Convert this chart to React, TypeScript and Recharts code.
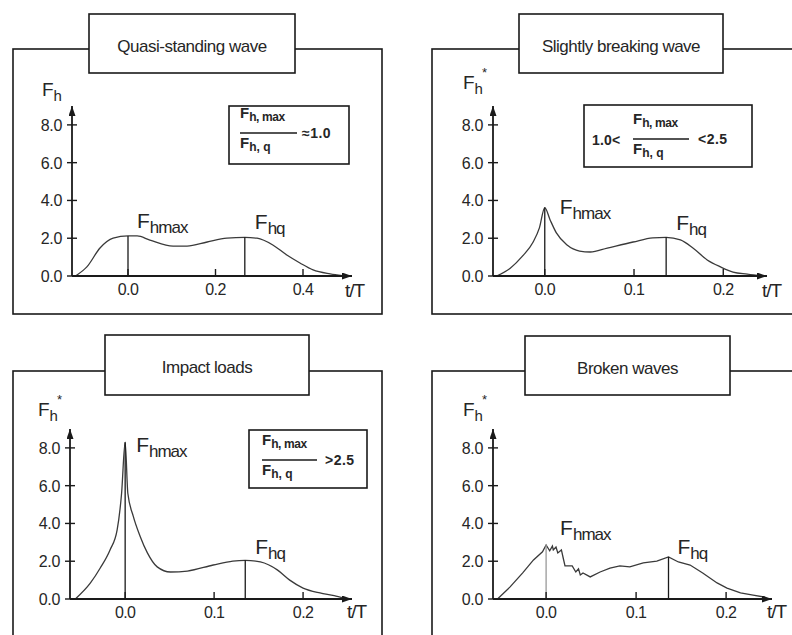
import React from "react";
import { LineChart, Line, XAxis, YAxis, ReferenceLine } from "recharts";

const FONT = "'Liberation Sans', Arial, Helvetica, sans-serif";
const INK = "#1a1a1a";
const TEXT = "#262626";

// quasi-standing wave (t/T, Fh)
const quasiT = [-0.12, -0.094, -0.064, -0.034, 0, 0.021, 0.05, 0.103, 0.135, 0.181, 0.226, 0.267, 0.295, 0.331, 0.363, 0.393, 0.423, 0.462, 0.49];
const quasiF = [0, 0.48, 1.48, 2.0, 2.12, 2.12, 1.9, 1.58, 1.58, 1.8, 2.0, 2.05, 2.0, 1.64, 1.11, 0.69, 0.32, 0.11, 0.02];
const quasiMarks = [0, 0.267]; // Fhmax, Fhq

// slightly breaking wave
const slightT = [-0.054, -0.039, -0.025, -0.013, -0.006, 0, 0.006, 0.013, 0.025, 0.039, 0.051, 0.07, 0.099, 0.121, 0.136, 0.152, 0.166, 0.182, 0.197, 0.211, 0.227, 0.244];
const slightF = [0, 0.4, 1.05, 1.8, 2.55, 3.62, 2.97, 2.28, 1.64, 1.32, 1.27, 1.48, 1.8, 2.02, 2.05, 1.91, 1.48, 0.85, 0.48, 0.21, 0.1, 0];
const slightMarks = [0, 0.136];

// impact loads
const impactT = [-0.056, -0.039, -0.028, -0.017, -0.009, -0.004, 0, 0.003, 0.009, 0.017, 0.025, 0.036, 0.051, 0.07, 0.099, 0.121, 0.135, 0.152, 0.171, 0.185, 0.2, 0.219, 0.235, 0.246];
const impactF = [0, 0.85, 1.64, 2.6, 3.66, 5.6, 8.3, 5.6, 4.4, 3.3, 2.44, 1.7, 1.43, 1.48, 1.8, 2.01, 2.05, 1.96, 1.54, 1.0, 0.58, 0.32, 0.18, 0.05];
const impactMarks = [0, 0.135];

// broken waves
const brokenT = [-0.054, -0.04, -0.026, -0.014, -0.004, 0, 0.004, 0.007, 0.008, 0.011, 0.013, 0.017, 0.019, 0.021, 0.029, 0.033, 0.036, 0.038, 0.041, 0.049, 0.06, 0.071, 0.082, 0.093, 0.108, 0.123, 0.136, 0.147, 0.16, 0.174, 0.19, 0.201, 0.216, 0.23, 0.243];
const brokenF = [0, 0.64, 1.38, 2.07, 2.5, 2.86, 2.55, 2.8, 2.6, 2.75, 2.44, 2.6, 2.17, 1.75, 1.75, 1.43, 1.6, 1.27, 1.38, 1.17, 1.43, 1.64, 1.75, 1.7, 1.91, 2.01, 2.23, 1.96, 1.8, 1.38, 0.85, 0.58, 0.32, 0.21, 0.1];
const brokenMarks = [0, 0.136];

const wideTicks = [0, 0.2, 0.4];
const narrowTicks = [0, 0.1, 0.2];
const forceTicks = [0, 2, 4, 6, 8];

const toRows = (t: number[], f: number[]) => t.map((v, i) => ({ t: v, f: f[i] }));
const markValue = (t: number[], f: number[], at: number) => f[t.indexOf(at)];

const YW = 60;
const MT = 12;
const MR = 28;
const XH = 34;

const YTick = (p: any) => (
  <g>
    <line x1={p.x - 5} x2={p.x + 5} y1={p.y} y2={p.y} stroke={INK} strokeWidth={1.4} />
    <text x={p.x - 10} y={p.y + 6} textAnchor="end" fontSize={16} letterSpacing={-0.3} fill={TEXT} fontFamily={FONT}>
      {Number(p.payload.value).toFixed(1)}
    </text>
  </g>
);

const XTick = (p: any) => (
  <g>
    <line x1={p.x} x2={p.x} y1={p.y} y2={p.y - 7} stroke={INK} strokeWidth={1.4} />
    <text x={p.x} y={p.y + 19} textAnchor="middle" fontSize={16} letterSpacing={-0.6} fill={TEXT} fontFamily={FONT}>
      {Number(p.payload.value).toFixed(1)}
    </text>
  </g>
);

const markLabel = (sub: string, dx: number, dy: number) => (p: any) => {
  const vb = p.viewBox || {};
  return (
    <text x={vb.x + dx} y={vb.y + dy} fill={TEXT} fontFamily={FONT} fontSize={21}>
      F<tspan fontSize={17} dy={5} letterSpacing={-1}>{sub}</tspan>
    </text>
  );
};

type Mark = { at: number; sub: string; dx: number; dy: number; color: string };

function ForceChart(props: {
  t: number[];
  f: number[];
  domain: [number, number];
  xTicks: number[];
  plot: { l: number; r: number; top: number; b: number };
  marks: Mark[];
  curve: "monotone" | "linear";
}) {
  const { t, f, domain, xTicks, plot, marks, curve } = props;
  const w = YW + (plot.r - plot.l) + MR;
  const h = MT + (plot.b - plot.top) + XH;
  return (
    <div style={{ position: "absolute", left: plot.l - YW, top: plot.top - MT }}>
      <LineChart width={w} height={h} data={toRows(t, f)} margin={{ top: MT, right: MR, bottom: 0, left: 0 }}>
        <XAxis
          type="number"
          dataKey="t"
          domain={domain}
          ticks={xTicks}
          allowDataOverflow
          interval={0}
          height={XH}
          tickSize={0}
          tickMargin={0}
          tickLine={false}
          tick={XTick}
          axisLine={{ stroke: INK, strokeWidth: 1.8, markerEnd: "url(#axisArrow)" }}
        />
        <YAxis
          type="number"
          domain={[0, 9]}
          ticks={forceTicks}
          allowDataOverflow
          interval={0}
          width={YW}
          tickSize={0}
          tickMargin={0}
          tickLine={false}
          tick={YTick}
          axisLine={{ stroke: INK, strokeWidth: 1.8, markerStart: "url(#axisArrow)" }}
        />
        <Line dataKey="f" type={curve} stroke="#3a3a3a" strokeWidth={1.3} dot={false} activeDot={false} isAnimationActive={false} />
        {marks.map((m) => (
          <ReferenceLine
            key={m.sub}
            segment={[
              { x: m.at, y: 0 },
              { x: m.at, y: markValue(t, f, m.at) },
            ]}
            stroke={m.color}
            strokeWidth={1.3}
            label={markLabel(m.sub, m.dx, m.dy)}
          />
        ))}
      </LineChart>
    </div>
  );
}

const txt = { fontFamily: FONT, fill: TEXT } as const;

function Ratio(props: { x: number; y: number; w: number; h: number; fx: number; lw: number; ly: number; pre?: string; preX?: number; post: string; postX: number }) {
  const { x, y, w, h, fx, lw, ly, pre, preX, post, postX } = props;
  return (
    <g>
      <rect x={x} y={y} width={w} height={h} fill="#fff" stroke={INK} strokeWidth={1.6} />
      <text x={fx} y={ly - 15} fontSize={15} fontWeight="bold" {...txt}>
        F<tspan fontSize={12} dy={3} letterSpacing={-0.4}>h, max</tspan>
      </text>
      <line x1={fx} x2={fx + lw} y1={ly} y2={ly} stroke={INK} strokeWidth={1.4} />
      <text x={fx} y={ly + 15} fontSize={15} fontWeight="bold" {...txt}>
        F<tspan fontSize={12} dy={3}>h, q</tspan>
      </text>
      {pre && (
        <text x={preX} y={ly + 6} fontSize={14} fontWeight="bold" letterSpacing={0.2} {...txt}>
          {pre}
        </text>
      )}
      <text x={postX} y={ly + 5} fontSize={14} fontWeight="bold" letterSpacing={0.5} {...txt}>
        {post}
      </text>
    </g>
  );
}

function AxisTitle(props: { x: number; y: number; star?: boolean }) {
  const { x, y, star } = props;
  return (
    <g>
      <text x={x} y={y} fontSize={19} {...txt}>
        F<tspan fontSize={15} dy={5}>h</tspan>
      </text>
      {star && (
        <text x={x + 19} y={y - 12} fontSize={13} {...txt}>
          *
        </text>
      )}
    </g>
  );
}

function Title(props: { x: number; y: number; w: number; h: number; label: string }) {
  const { x, y, w, h, label } = props;
  return (
    <g>
      <rect x={x} y={y} width={w} height={h} fill="#fff" stroke={INK} strokeWidth={1.6} />
      <text x={x + w / 2} y={y + 38} textAnchor="middle" fontSize={17} letterSpacing={-0.5} {...txt}>
        {label}
      </text>
    </g>
  );
}

const TT = (p: { x: number; y: number }) => (
  <text x={p.x} y={p.y} fontSize={19} letterSpacing={-1} {...txt}>
    t/T
  </text>
);

export default function App() {
  return (
    <div style={{ position: "relative", width: 792, height: 635, overflow: "hidden", background: "#fff", fontFamily: FONT }}>
      <style>{"body{margin:0}"}</style>
      <svg width={792} height={635} style={{ position: "absolute", left: 0, top: 0 }}>
        <defs>
          <marker id="axisArrow" viewBox="0 0 10 7" refX={10} refY={3.5} markerWidth={10} markerHeight={7} markerUnits="userSpaceOnUse" orient="auto-start-reverse">
            <path d="M0,0 L10,3.5 L0,7 Z" fill={INK} />
          </marker>
        </defs>
        <rect x={13} y={49} width={369} height={265} fill="none" stroke={INK} strokeWidth={1.6} />
        <rect x={432} y={49} width={400} height={265} fill="none" stroke={INK} strokeWidth={1.6} />
        <rect x={13} y={371} width={369} height={300} fill="none" stroke={INK} strokeWidth={1.6} />
        <rect x={432} y={371} width={400} height={300} fill="none" stroke={INK} strokeWidth={1.6} />

        <Title x={89} y={14} w={206} h={59} label="Quasi-standing wave" />
        <Title x={519} y={14} w={204} h={59} label="Slightly breaking wave" />
        <Title x={105} y={335} w={204} h={60} label="Impact loads" />
        <Title x={525} y={336} w={205} h={59} label="Broken waves" />

        <AxisTitle x={42} y={96} />
        <AxisTitle x={463} y={89} star />
        <AxisTitle x={38} y={416} star />
        <AxisTitle x={463} y={416} star />

        <TT x={345} y={297} />
        <TT x={762} y={297} />
        <TT x={347} y={618} />
        <TT x={767} y={618} />

        <Ratio x={229} y={106} w={120} h={58} fx={240} lw={57} ly={133} post="≈1.0" postX={302} />
        <Ratio x={584} y={105} w={168} h={62} fx={633} lw={56} ly={139} pre="1.0<" preX={592} post="<2.5" postX={698} />
        <Ratio x={249} y={430} w={118} h={58} fx={262} lw={55} ly={460} post=">2.5" postX={325} />
      </svg>

      <ForceChart
        t={quasiT}
        f={quasiF}
        domain={[-0.128, 0.512]}
        xTicks={wideTicks}
        plot={{ l: 72, r: 352, top: 106, b: 276 }}
        curve="monotone"
        marks={[
          { at: quasiMarks[0], sub: "hmax", dx: 9, dy: -8, color: INK },
          { at: quasiMarks[1], sub: "hq", dx: 10, dy: -8, color: INK },
        ]}
      />
      <ForceChart
        t={slightT}
        f={slightF}
        domain={[-0.058, 0.249]}
        xTicks={narrowTicks}
        plot={{ l: 493, r: 767, top: 106, b: 276 }}
        curve="monotone"
        marks={[
          { at: slightMarks[0], sub: "hmax", dx: 15, dy: 6, color: INK },
          { at: slightMarks[1], sub: "hq", dx: 10, dy: -7, color: INK },
        ]}
      />
      <ForceChart
        t={impactT}
        f={impactF}
        domain={[-0.062, 0.255]}
        xTicks={narrowTicks}
        plot={{ l: 70, r: 352, top: 429, b: 599 }}
        curve="monotone"
        marks={[
          { at: impactMarks[0], sub: "hmax", dx: 11, dy: 10, color: INK },
          { at: impactMarks[1], sub: "hq", dx: 10, dy: -6, color: INK },
        ]}
      />
      <ForceChart
        t={brokenT}
        f={brokenF}
        domain={[-0.059, 0.251]}
        xTicks={narrowTicks}
        plot={{ l: 493, r: 772, top: 429, b: 599 }}
        curve="linear"
        marks={[
          { at: brokenMarks[0], sub: "hmax", dx: 14, dy: -10, color: "#999" },
          { at: brokenMarks[1], sub: "hq", dx: 9, dy: -3, color: INK },
        ]}
      />
    </div>
  );
}
